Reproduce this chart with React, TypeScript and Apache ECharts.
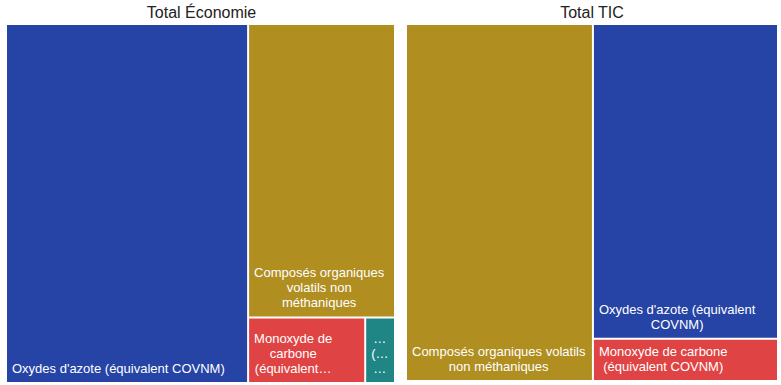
import React, { useEffect, useRef } from 'react';
import * as echarts from 'echarts';

const chartTitles = ['Total Économie', 'Total TIC'];

const economieNames = [
  "Oxydes d'azote (équivalent COVNM)",
  'Composés organiques volatils non méthaniques',
  'Monoxyde de carbone (équivalent COVNM)',
  'Méthane (équivalent COVNM)',
];
const economieValues = [62.3, 30.9, 5.5, 1.4];

const ticNames = [
  'Composés organiques volatils non méthaniques',
  "Oxydes d'azote (équivalent COVNM)",
  'Monoxyde de carbone (équivalent COVNM)',
];
const ticValues = [50.3, 43.9, 5.9];

const colorByName: Record<string, string> = {
  "Oxydes d'azote (équivalent COVNM)": '#2643a6',
  'Composés organiques volatils non méthaniques': '#b08e20',
  'Monoxyde de carbone (équivalent COVNM)': '#e04343',
  'Méthane (équivalent COVNM)': '#1f8585',
};

const FONT_FAMILY = "'Liberation Sans', Arial, Helvetica, sans-serif";
const FONT_SIZE = 13;
const LABEL_FONT = `${FONT_SIZE}px ${FONT_FAMILY}`;
const PAD = 5;
const LINE_H = 15;
const ELL = '…';

let measureCtx: CanvasRenderingContext2D | null = null;
function textWidth(s: string): number {
  if (!measureCtx) {
    const c = document.createElement('canvas');
    measureCtx = c.getContext('2d');
  }
  if (!measureCtx) return s.length * 7;
  measureCtx.font = LABEL_FONT;
  return measureCtx.measureText(s).width;
}

function fitWithEllipsis(s: string, w: number): string {
  for (let k = s.length; k >= 0; k--) {
    const t = s.slice(0, k) + ELL;
    if (textWidth(t) <= w) return t;
  }
  return ELL;
}

function fitLine(s: string, w: number): string {
  if (textWidth(s) <= w) return s;
  return fitWithEllipsis(s.slice(0, -1), w);
}

// word wrap with real glyph widths, truncated to the lines that fit the box
function wrapLabel(text: string, w: number, h: number): string {
  const words = String(text).split(' ');
  const lines: string[] = [];
  let cur = '';
  for (const word of words) {
    if (!cur) {
      cur = word;
      continue;
    }
    const cand = cur + ' ' + word;
    if (textWidth(cand) <= w) cur = cand;
    else {
      lines.push(cur);
      cur = word;
    }
  }
  if (cur) lines.push(cur);
  const maxLines = Math.max(1, Math.floor(h / LINE_H));
  let out = lines.map((l) => fitLine(l, w));
  if (lines.length > maxLines) {
    out = out.slice(0, maxLines);
    out[maxLines - 1] = fitWithEllipsis(lines[maxLines - 1], w);
  }
  return out.join('\n');
}

function makeSeries(
  names: string[],
  values: number[],
  box: { left: number; top: number; width: number; height: number },
  labelLayout: (p: any) => any
) {
  return {
    type: 'treemap',
    left: box.left,
    top: box.top,
    width: box.width,
    height: box.height,
    roam: false,
    nodeClick: false,
    breadcrumb: { show: false },
    squareRatio: 1,
    label: {
      show: true,
      position: 'insideBottomLeft',
      color: '#ffffff',
      fontSize: FONT_SIZE,
      fontFamily: FONT_FAMILY,
      lineHeight: LINE_H,
      padding: PAD,
      overflow: 'none',
      formatter: '{b}',
    },
    labelLayout,
    itemStyle: { borderWidth: 0, gapWidth: 2, borderColor: '#ffffff' },
    levels: [
      { itemStyle: { borderWidth: 0, gapWidth: 2 } },
      { itemStyle: { borderWidth: 0, gapWidth: 0 } },
    ],
    emphasis: { disabled: true },
    data: names.map((n, i) => ({
      name: n,
      value: values[i],
      itemStyle: { color: colorByName[n] },
    })),
  };
}

export default function App() {
  const ref = useRef<HTMLDivElement>(null);
  useEffect(() => {
    if (!ref.current) return;
    const chart = echarts.init(ref.current, undefined, { renderer: 'svg' });
    const rects: Record<string, { rect: any; name: string }> = {};

    const labelLayout = (params: any) => {
      const r = params.rect;
      const key = params.seriesIndex + '|' + params.dataIndex;
      if (!rects[key]) rects[key] = { rect: { x: r.x, y: r.y, width: r.width, height: r.height }, name: params.text };
      const lines = String(params.text).split('\n');
      let bw = 0;
      for (const l of lines) bw = Math.max(bw, textWidth(l));
      bw = Math.min(bw, Math.max(r.width - 2 * PAD, 0));
      return {
        x: r.x + PAD + bw / 2,
        y: r.y + r.height - 1,
        align: 'center',
        verticalAlign: 'bottom',
      };
    };

    const titleStyle = { fontSize: 16, fontWeight: 'normal', color: '#222222', fontFamily: FONT_FAMILY };
    chart.setOption({
      animation: false,
      backgroundColor: '#ffffff',
      textStyle: { fontFamily: FONT_FAMILY },
      title: [
        { text: chartTitles[0], left: 201.5, top: 4, padding: 0, textAlign: 'center', textStyle: titleStyle },
        { text: chartTitles[1], left: 592, top: 4, padding: 0, textAlign: 'center', textStyle: titleStyle },
      ],
      tooltip: { show: false },
      series: [
        makeSeries(economieNames, economieValues, { left: 7, top: 25, width: 387, height: 357 }, labelLayout),
        makeSeries(ticNames, ticValues, { left: 407, top: 25, width: 370, height: 355 }, labelLayout),
      ],
    });

    // second pass: wrap each label to the box the treemap gave it
    const wrapped: Record<string, string> = {};
    Object.keys(rects).forEach((k) => {
      const { rect, name } = rects[k];
      wrapped[k] = wrapLabel(name, Math.max(rect.width - 2 * PAD, 0), Math.max(rect.height - 2 * PAD, 0));
    });
    const formatter = (p: any) => {
      const k = p.seriesIndex + '|' + p.dataIndex;
      return wrapped[k] != null ? wrapped[k] : p.name;
    };
    chart.setOption({ series: [{ label: { formatter } }, { label: { formatter } }] });

    return () => chart.dispose();
  }, []);
  return <div ref={ref} style={{ width: 781, height: 385, position: 'absolute', left: 0, top: 0 }} />;
}
